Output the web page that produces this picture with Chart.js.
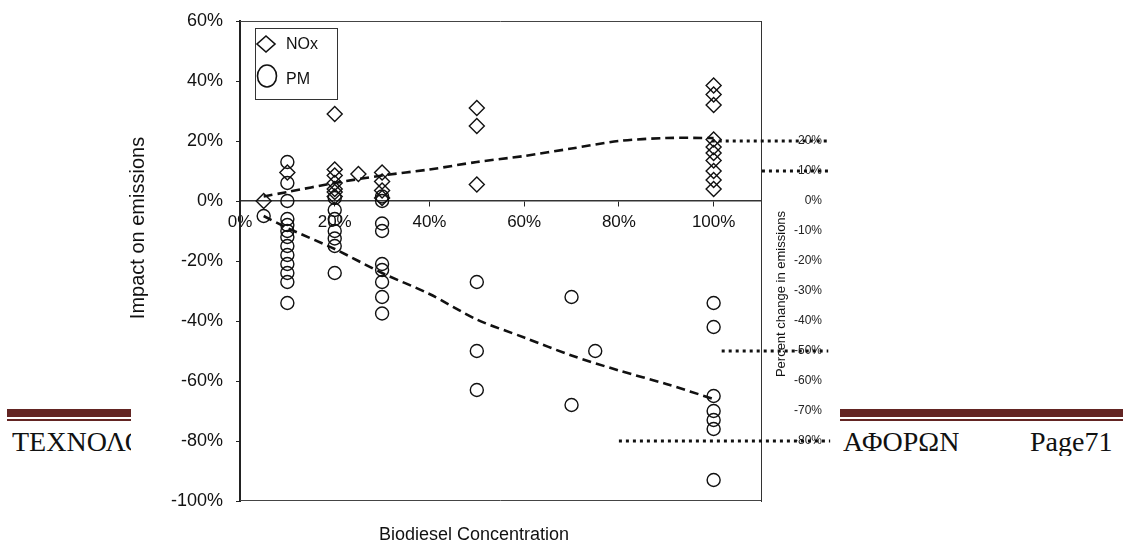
<!DOCTYPE html>
<html><head><meta charset="utf-8">
<script src="https://cdn.jsdelivr.net/npm/chart.js@4.4.1/dist/chart.umd.min.js"></script>
<style>
html,body{margin:0;padding:0;background:#fff;}
#wrap{position:relative;width:1127px;height:551px;overflow:hidden;background:#fff;}
#c{position:absolute;left:0;top:0;width:1127px;height:551px;}
.bar{position:absolute;background:#632523;}
.ft{position:absolute;font-family:"Liberation Serif",serif;font-size:28px;line-height:28px;color:#111;white-space:nowrap;overflow:hidden;}
</style></head><body>
<div id="wrap">
<div class="bar" style="left:7px;top:409px;width:124px;height:8px"></div>
<div class="bar" style="left:7px;top:419px;width:124px;height:2px"></div>
<div class="bar" style="left:840px;top:409px;width:283px;height:8px"></div>
<div class="bar" style="left:840px;top:419px;width:283px;height:2px"></div>
<div class="ft" style="left:12px;top:428px;width:119px">ΤΕΧΝΟΛΟΓΙΑ ΚΑΥΣΙΜΩΝ</div>
<div class="ft" style="left:843px;top:428px">ΑΦΟΡΩΝ</div>
<div class="ft" style="left:1030px;top:428px">Page71</div>
<canvas id="c" width="1127" height="551"></canvas>
</div>
<script>
const FONT = "'Liberation Sans', Arial, sans-serif";

// ---- data ----
const xTickValues = [0, 20, 40, 60, 80, 100];
const rightTickValues = [20, 10, 0, -10, -20, -30, -40, -50, -60, -70, -80];

const noxConc   = [5, 10, 20, 20, 20, 20, 20, 20, 20, 25, 30, 30, 30, 30, 50, 50, 50,
                   100, 100, 100, 100, 100, 100, 100, 100, 100, 100];
const noxImpact = [0, 9.5, 29, 10.5, 8.5, 6, 4, 3, 1.5, 9, 9.5, 6.5, 3.5, 1, 31, 25, 5.5,
                   38.5, 35.5, 32, 20.5, 18, 16, 13.5, 10, 7, 4];

const pmConc   = [5,
                  10, 10, 10, 10, 10, 10, 10, 10, 10, 10, 10, 10, 10,
                  20, 20, 20, 20, 20, 20, 20,
                  30, 30, 30, 30, 30, 30, 30, 30, 30,
                  50, 50, 50,
                  70, 70, 75,
                  100, 100, 100, 100, 100, 100, 100];
const pmImpact = [-5,
                  13, 6, 0, -6, -8, -10, -12, -15, -18, -21, -24, -27, -34,
                  1, -3, -6, -10, -12.5, -15, -24,
                  1.5, 0, -7.5, -10, -21, -23, -27, -32, -37.5,
                  -27, -50, -63,
                  -32, -68, -50,
                  -34, -42, -65, -70, -73, -76, -93];

const trendConc = [5, 10, 20, 30, 40, 50, 60, 70, 80, 90, 100];
const noxTrend  = [1.5, 3, 6, 8.5, 10.5, 13, 15, 17.5, 20, 21, 21];
const pmTrend   = [-5, -9, -16, -24, -31, -39.5, -45.5, -51.5, -56.5, -61, -66];

const refLevels = [20, 10, -50, -80];
const refFrom   = [99.6, 110.2, 101.7, 80];
const refTo     = [124.6, 124.6, 124.2, 124.6];

// ---- build datasets ----
const pts = (xs, ys) => xs.map((x, i) => ({x: x, y: ys[i]}));
const pct = v => v + '%';
const noPad = s => { s.paddingTop = 0; s.paddingBottom = 0; s.paddingLeft = 0; s.paddingRight = 0; };

const datasets = [
  {type: 'line', label: 'NOx trend', data: pts(trendConc, noxTrend), borderColor: '#111',
   borderWidth: 2.6, borderDash: [9, 5], pointRadius: 0, tension: 0.3, fill: false},
  {type: 'line', label: 'PM trend', data: pts(trendConc, pmTrend), borderColor: '#111',
   borderWidth: 2.6, borderDash: [9, 5], pointRadius: 0, tension: 0.3, fill: false},
  {type: 'scatter', label: 'NOx', data: pts(noxConc, noxImpact), pointStyle: 'rectRot',
   pointRadius: 7.5, borderColor: '#111', borderWidth: 1.4, backgroundColor: 'rgba(255,255,255,0)'},
  {type: 'scatter', label: 'PM', data: pts(pmConc, pmImpact), pointStyle: 'circle',
   pointRadius: 6.5, borderColor: '#111', borderWidth: 1.4, backgroundColor: 'rgba(255,255,255,0)'}
];
refLevels.forEach((lv, i) => {
  datasets.push({type: 'line', label: 'ref ' + lv, data: [{x: refFrom[i], y: lv}, {x: refTo[i], y: lv}],
    borderColor: '#111', borderWidth: 3, borderDash: [3, 4], pointRadius: 0, clip: false, fill: false});
});

const decor = {
  id: 'decor',
  beforeDatasetsDraw(chart) {
    const {ctx, chartArea: a} = chart;
    ctx.save();
    ctx.strokeStyle = '#444';
    ctx.lineWidth = 1;
    ctx.beginPath();
    ctx.moveTo(a.left, a.top + 0.5); ctx.lineTo(a.right, a.top + 0.5);
    ctx.moveTo(a.left, a.bottom - 0.5); ctx.lineTo(a.right, a.bottom - 0.5);
    ctx.stroke();
    ctx.restore();
  },
  afterDraw(chart) {
    const {ctx, chartArea: a} = chart;
    ctx.save();
    ctx.fillStyle = '#111';
    ctx.textAlign = 'center';
    ctx.textBaseline = 'middle';
    // y title
    ctx.save();
    ctx.translate(a.left - 102, a.top + 207);
    ctx.rotate(-Math.PI / 2);
    ctx.font = '20px ' + FONT;
    ctx.fillText('Impact on emissions', 0, 0);
    ctx.restore();
    // x title
    ctx.font = '18px ' + FONT;
    ctx.fillText('Biodiesel Concentration', a.left + 234, a.bottom + 34);
    // right title
    ctx.save();
    ctx.translate(a.right + 20, a.top + 273);
    ctx.rotate(-Math.PI / 2);
    ctx.font = '13px ' + FONT;
    ctx.fillText('Percent change in emissions', 0, 0);
    ctx.restore();
    // legend box
    const lx = a.left + 15, ly = a.top + 7;
    ctx.strokeStyle = '#333';
    ctx.lineWidth = 1;
    ctx.strokeRect(lx + 0.5, ly + 0.5, 82, 71);
    ctx.lineWidth = 1.6;
    ctx.strokeStyle = '#111';
    ctx.beginPath();
    const dx = lx + 11, dy = ly + 16;
    ctx.moveTo(dx, dy - 8); ctx.lineTo(dx + 9, dy); ctx.lineTo(dx, dy + 8); ctx.lineTo(dx - 9, dy); ctx.closePath();
    ctx.stroke();
    ctx.beginPath();
    ctx.ellipse(lx + 12, ly + 48, 9.5, 11, 0, 0, Math.PI * 2);
    ctx.stroke();
    ctx.textAlign = 'left';
    ctx.font = '16px ' + FONT;
    ctx.fillText('NOx', lx + 31, dy + 1);
    ctx.fillText('PM', lx + 31, ly + 52);
    ctx.restore();
  }
};

new Chart(document.getElementById('c'), {
  data: {datasets: datasets},
  plugins: [decor],
  options: {
    responsive: false,
    animation: false,
    layout: {padding: {top: 21, left: 0, right: 305, bottom: 0}},
    plugins: {legend: {display: false}, tooltip: {enabled: false}},
    scales: {
      x: {
        type: 'linear', position: {y: 0}, min: 0, max: 110,
        afterBuildTicks: s => { s.ticks = xTickValues.map(v => ({value: v})); },
        ticks: {callback: pct, font: {family: FONT, size: 17}, color: '#111', padding: 6, maxRotation: 0},
        grid: {drawOnChartArea: false, drawTicks: true, tickLength: 5, color: '#222'},
        border: {display: true, color: '#333', width: 1.5},
        afterFit: noPad
      },
      y: {
        type: 'linear', position: 'left', min: -100, max: 60,
        ticks: {stepSize: 20, callback: pct, font: {family: FONT, size: 18}, color: '#111', padding: 13},
        grid: {drawOnChartArea: false, drawTicks: true, tickLength: 4, color: '#222'},
        border: {display: true, color: '#222', width: 2},
        afterFit: s => { s.width = 240; noPad(s); }
      },
      y2: {
        type: 'linear', position: 'right', min: -100, max: 60,
        afterBuildTicks: s => { s.ticks = rightTickValues.map(v => ({value: v})); },
        ticks: {callback: pct, font: {family: FONT, size: 12}, color: '#222', padding: 30, crossAlign: 'far'},
        grid: {display: false, drawTicks: false},
        border: {display: true, color: '#333', width: 1},
        afterFit: s => { s.width = 61; noPad(s); }
      },
      xb: {
        type: 'linear', position: 'bottom', min: 0, max: 110,
        ticks: {display: false}, grid: {display: false, drawTicks: false}, border: {display: false},
        afterFit: s => { s.height = 50; noPad(s); }
      }
    }
  }
});
</script>
</body></html>
